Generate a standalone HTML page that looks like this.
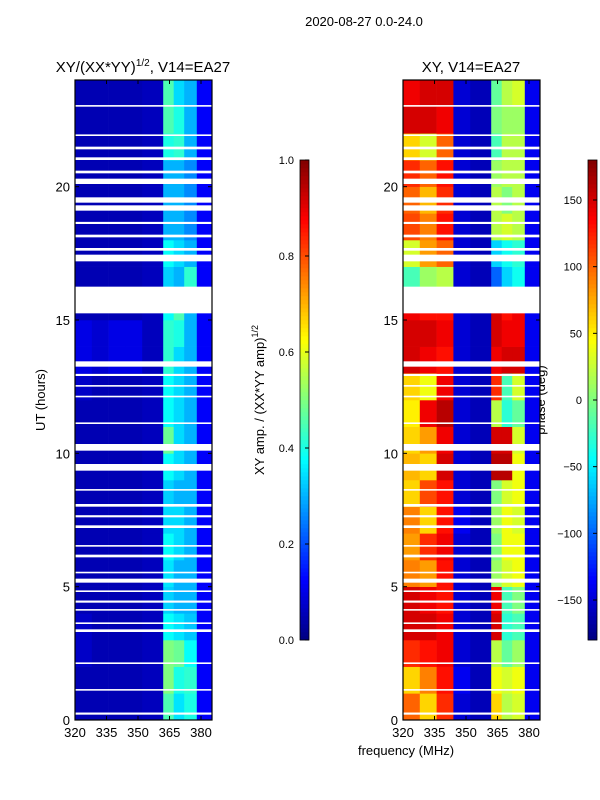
<!DOCTYPE html>
<html><head><meta charset="utf-8"><style>
body{margin:0;background:#fff;}
svg{display:block;font-family:"Liberation Sans","DejaVu Sans",sans-serif;}
</style></head><body>
<svg id="fig" width="600" height="800" viewBox="0 0 600 800">
<text x="364" y="26" font-size="13" text-anchor="middle">2020-08-27 0.0-24.0</text>
<text x="143" y="72" font-size="15" text-anchor="middle">XY/(XX*YY)<tspan dy="-6" font-size="10">1/2</tspan><tspan dy="6">, V14=EA27</tspan></text>
<text x="471" y="72" font-size="15" text-anchor="middle">XY, V14=EA27</text>
<text x="406" y="755" font-size="13" text-anchor="middle">frequency (MHz)</text>
<text transform="translate(45,400) rotate(-90)" font-size="13" text-anchor="middle">UT (hours)</text>
<text transform="translate(264,400) rotate(-90)" font-size="13" text-anchor="middle">XY amp. / (XX*YY amp)<tspan dy="-6" font-size="9">1/2</tspan></text>
<text transform="translate(545,400) rotate(-90)" font-size="13" text-anchor="middle">phase (deg)</text>
<g id="left"></g>
<g id="right"></g>
<g id="cb"></g>
<g id="axes"></g>
</svg>
<script>
// frequency band edges (MHz)
const bandEdges=[320,328,336,344,352,362,367,372,378,385.2];
// left panel amplitude ratio, rows = hour 0..23, cols = bands
const ampRows=[
[0.05,0.05,0.05,0.05,0.06,0.45,0.35,0.4,0.12],
[0.05,0.05,0.05,0.05,0.06,0.5,0.4,0.42,0.12],
[0.07,0.05,0.05,0.05,0.06,0.5,0.48,0.38,0.12],
[0.07,0.05,0.05,0.05,0.06,0.38,0.35,0.32,0.12],
[0.05,0.05,0.05,0.05,0.06,0.33,0.3,0.3,0.12],
[0.05,0.05,0.05,0.05,0.06,0.35,0.3,0.3,0.12],
[0.05,0.05,0.05,0.05,0.06,0.38,0.34,0.3,0.12],
[0.05,0.05,0.05,0.05,0.06,0.34,0.34,0.3,0.12],
[0.05,0.05,0.05,0.05,0.06,0.33,0.3,0.3,0.12],
[0.05,0.05,0.05,0.05,0.06,0.38,0.34,0.3,0.12],
[0.05,0.05,0.05,0.05,0.06,0.48,0.34,0.3,0.12],
[0.05,0.05,0.05,0.05,0.06,0.38,0.34,0.3,0.12],
[0.07,0.05,0.05,0.05,0.06,0.38,0.34,0.3,0.12],
[0.1,0.08,0.1,0.1,0.06,0.42,0.34,0.3,0.12],
[0.1,0.08,0.1,0.1,0.06,0.42,0.4,0.3,0.12],
[0.05,0.05,0.05,0.05,0.06,0.38,0.45,0.3,0.12],
[0.05,0.05,0.05,0.05,0.06,0.33,0.3,0.42,0.12],
[0.05,0.05,0.05,0.05,0.06,0.38,0.34,0.3,0.12],
[0.05,0.05,0.05,0.05,0.06,0.3,0.3,0.26,0.12],
[0.05,0.05,0.05,0.05,0.06,0.3,0.3,0.26,0.12],
[0.05,0.05,0.05,0.05,0.06,0.3,0.3,0.26,0.12],
[0.05,0.05,0.05,0.05,0.06,0.4,0.42,0.3,0.12],
[0.05,0.05,0.05,0.05,0.06,0.45,0.4,0.3,0.12],
[0.05,0.05,0.05,0.05,0.06,0.45,0.34,0.3,0.12]];
// right panel phase (deg)
const phaseRows=[
[100,60,120,-150,-160,60,20,30,-140],
[60,90,130,-140,-160,40,30,40,-140],
[120,130,140,-150,-160,20,-10,10,-140],
[150,150,140,-150,-160,150,-30,-20,-140],
[150,140,130,-150,-160,140,-20,0,-140],
[90,80,130,-150,-160,10,30,40,-140],
[80,120,140,-150,-160,0,40,40,-140],
[90,60,130,-140,-160,10,40,30,-140],
[60,110,130,-150,-160,0,30,40,-140],
[70,60,150,-150,-160,160,160,40,-140],
[60,80,140,-150,-160,150,150,30,-140],
[50,140,160,-150,-160,20,-30,-10,-140],
[60,40,140,-150,-160,120,-20,30,-140],
[150,140,130,-150,-160,140,150,150,-140],
[150,150,140,-150,-160,150,140,140,-140],
[140,130,130,-150,-160,150,130,140,-140],
[-20,10,20,-150,-160,-100,-60,-40,-140],
[30,80,100,-150,-160,-60,-40,-30,-140],
[110,90,130,-150,-160,20,30,20,-140],
[100,70,120,-150,-160,20,0,20,-140],
[120,100,130,-150,-160,10,20,20,-140],
[60,30,100,-150,-160,-20,20,20,-140],
[150,150,140,-150,-160,0,10,10,-140],
[140,150,150,-150,-160,-10,20,30,-140]];
// flagged (blank) time intervals [start,end] in hours
const flagStart=[0.2,1.1,2.1,3.3,3.6,4.1,4.4,4.8,5.15,5.5,6.1,6.5,7.2,7.6,8.0,8.6,9.35,10.1,11.1,12.1,12.5,12.9,13.25,15.25,17.2,17.6,18.1,18.6,19.1,19.4,20.1,20.5,21.0,21.4,21.9,23.0];
const flagEnd=[0.28,1.16,2.16,3.4,3.66,4.16,4.48,4.86,5.3,5.56,6.2,6.56,7.3,7.68,8.1,8.66,9.6,10.35,11.16,12.16,12.56,12.98,13.45,16.25,17.45,17.7,18.2,18.68,19.3,19.6,20.3,20.6,21.1,21.5,21.96,23.06];
const ampTicks=[0,0.2,0.4,0.6,0.8,1.0];
const phaseTicks=[-150,-100,-50,0,50,100,150];
const xTicks=[320,335,350,365,380];
const yTicks=[0,5,10,15,20];

const NS="http://www.w3.org/2000/svg";
function jet(t){t=Math.max(0,Math.min(1,t));
 const f=(x)=>Math.max(0,Math.min(1,x));
 const r=f(1.5-Math.abs(4*t-3)),g=f(1.5-Math.abs(4*t-2)),b=f(1.5-Math.abs(4*t-1));
 return `rgb(${Math.round(r*255)},${Math.round(g*255)},${Math.round(b*255)})`;}
const Y0=720,Y1=80,TMAX=24;
function yS(h){return Y0-(h/TMAX)*(Y0-Y1);}
function xS(left,f){return left+(f-320)*2.1;}
function mk(tag,attrs,parent){const e=document.createElementNS(NS,tag);for(const k in attrs)e.setAttribute(k,attrs[k]);parent.appendChild(e);return e;}

function drawHeat(gid,left,rows,norm){
 const g=document.getElementById(gid);
 rows.forEach((row,h)=>{row.forEach((v,b)=>{
  const x0=xS(left,bandEdges[b]),x1=xS(left,bandEdges[b+1]);
  const r=mk('rect',{x:x0,y:yS(h+1),width:x1-x0+0.3,height:yS(h)-yS(h+1)+0.3,fill:jet(norm(v))},g);
  
  
 });});
 flagStart.forEach((s,i)=>{
  const r=mk('rect',{x:left,y:yS(flagEnd[i]),width:137,height:yS(s)-yS(flagEnd[i]),fill:'#fff'},g);
  
  
 });
 const fr=mk('rect',{x:left,y:Y1,width:137,height:Y0-Y1,fill:'none',stroke:'#000','stroke-width':1.2},g);
 
 
}
drawHeat('left',75,ampRows,v=>v);
drawHeat('right',403,phaseRows,v=>(v+180)/360);

const ax=document.getElementById('axes');
[75,403].forEach(left=>{
 xTicks.forEach(t=>{const x=xS(left,t);
  mk('line',{x1:x,x2:x,y1:Y0,y2:Y0-4,stroke:'#000'},ax);
  mk('line',{x1:x,x2:x,y1:Y1,y2:Y1+4,stroke:'#000'},ax);
  const tx=mk('text',{x:x,y:737,'font-size':13,'text-anchor':'middle'},ax);tx.textContent=t;
  
  });
 yTicks.forEach(t=>{const y=yS(t);
  mk('line',{x1:left,x2:left+4,y1:y,y2:y,stroke:'#000'},ax);
  mk('line',{x1:left+137,x2:left+133,y1:y,y2:y,stroke:'#000'},ax);
  const tx=mk('text',{x:left-5,y:y+5,'font-size':13,'text-anchor':'end'},ax);tx.textContent=t;
  
  });
});

const cb=document.getElementById('cb');
function colorbar(x,ticks,lo,hi,fmt){
 const n=120;
 for(let i=0;i<n;i++){
  const r=mk('rect',{x:x,y:640-(i+1)*4,width:9,height:4.3,fill:jet((i+0.5)/n)},cb);
  
  
 }
 mk('rect',{x:x,y:160,width:9,height:480,fill:'none',stroke:'#000','stroke-width':0.8},cb);
 ticks.forEach(t=>{const y=640-(t-lo)/(hi-lo)*480;
  mk('line',{x1:x+9,x2:x+5,y1:y,y2:y,stroke:'#000'},cb);
  const tx=mk('text',{x:x-6,y:y+4,'font-size':11,'text-anchor':'end'},cb);tx.textContent=fmt(t);
  
  });
}
colorbar(300,ampTicks,0,1,t=>t.toFixed(1));
colorbar(588,phaseTicks,-180,180,t=>t<0?'\u2212'+(-t):String(t));
</script>
</body></html>
